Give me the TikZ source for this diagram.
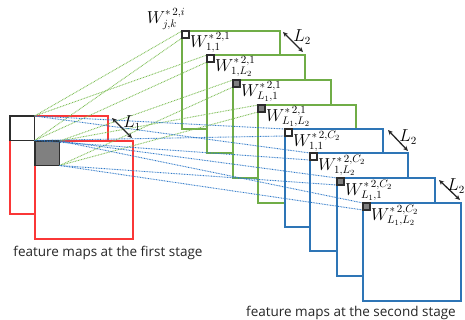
\documentclass[tikz,border=0pt]{standalone}
\usepackage{fontspec}
\newfontfamily\capfont{Open Sans}
\usetikzlibrary{arrows.meta}
\definecolor{fmred}{RGB}{250,55,55}
\definecolor{fmgreen}{RGB}{112,173,71}
\definecolor{fmblue}{RGB}{46,117,182}
\definecolor{dotgreen}{RGB}{125,190,85}
\definecolor{dotblue}{RGB}{45,120,200}
\definecolor{sqgray}{RGB}{128,128,128}
\definecolor{sqedge}{RGB}{45,45,45}
\begin{document}
\begin{tikzpicture}[x=1pt,y=-1pt,
  frame/.style={draw, line width=1.8pt, fill=white, minimum size=98pt, inner sep=0pt, outer sep=0pt, anchor=north west},
  redframe/.style={frame, draw=fmred},
  greenframe/.style={frame, draw=fmgreen},
  blueframe/.style={frame, draw=fmblue},
  bigsq/.style={draw=sqedge, line width=1.4pt, minimum size=24.5pt, inner sep=0pt, outer sep=0pt, anchor=north west},
  smallsq/.style={draw=sqedge, line width=1.3pt, minimum size=7pt, inner sep=0pt, outer sep=0pt, anchor=north west, fill=white},
  graysq/.style={fill=sqgray},
  gdot/.style={draw=dotgreen, line width=0.9pt, dash pattern=on 0.8pt off 0.8pt},
  bdot/.style={draw=dotblue, line width=0.9pt, dash pattern=on 0.8pt off 0.8pt},
  lab/.style={inner sep=0pt, font=\fontsize{16}{18}\selectfont},
  wlab/.style={lab, anchor=north west},
  dimarrow/.style={draw=black!85, line width=1.3pt, {Stealth[length=5pt,width=4.5pt]}-{Stealth[length=5pt,width=4.5pt]}},
  captext/.style={inner sep=0pt, anchor=base, font=\capfont\fontsize{13.5}{15}\selectfont, text=black!85}
]
\useasboundingbox (0,0) rectangle (465,320);

% first stage
\node[redframe] (R1) at (10,116) {};
\node[redframe] (R2) at (35,141) {};
\node[bigsq, fill=white] (ws) at (10,116) {};
\node[bigsq, graysq] (gs) at (35,141) {};

% second stage, green
\node[greenframe] (G1) at (182,31) {};
\node[greenframe] (G2) at (207,55) {};
\node[greenframe] (G3) at (233,80) {};
\node[greenframe] (G4) at (258,105) {};
% second stage, blue
\node[blueframe] (B1) at (285,129) {};
\node[blueframe] (B2) at (310,153) {};
\node[blueframe] (B3) at (337,178) {};
\node[blueframe] (B4) at (363,203) {};

% small squares
\node[smallsq] (g1) at (G1.north west) {};
\node[smallsq] (g2) at (G2.north west) {};
\node[smallsq, graysq] (g3) at (G3.north west) {};
\node[smallsq, graysq] (g4) at (G4.north west) {};
\node[smallsq] (b1) at (B1.north west) {};
\node[smallsq] (b2) at (B2.north west) {};
\node[smallsq, graysq] (b3) at (B3.north west) {};
\node[smallsq, graysq] (b4) at (B4.north west) {};

% dotted projection lines
\foreach \s/\t in {ws/g1, ws/g2, gs/g3, gs/g4} {
  \draw[gdot] (\s.north east) -- (\t.north west);
  \draw[gdot] (\s.south east) -- (\t.south west);
}
\foreach \s/\t in {ws/b1, ws/b2, gs/b3, gs/b4} {
  \draw[bdot] (\s.north east) -- (\t.north west);
  \draw[bdot] (\s.south east) -- (\t.south west);
}
% redraw small squares on top
\foreach \t/\f in {g1/white, g2/white, g3/sqgray, g4/sqgray, b1/white, b2/white, b3/sqgray, b4/sqgray} {
  \draw[sqedge, line width=1.3pt, fill=\f] (\t.north west) rectangle (\t.south east);
}

% labels
\node[lab] (top) at (166,19) {$W_{j,k}^{*\,2,i}$};
\node[wlab] (lg1) at (190,32) {$W_{1,1}^{*\,2,1}$};
\node[wlab] (lg2) at (215,56) {$W_{1,L_2}^{*\,2,1}$};
\node[wlab] (lg3) at (241,81) {$W_{L_1,1}^{*\,2,1}$};
\node[wlab] (lg4) at (266,106) {$W_{L_1,L_2}^{*\,2,1}$};
\node[wlab] (lb1) at (293,131) {$W_{1,1}^{*\,2,C_2}$};
\node[wlab] (lb2) at (318,155) {$W_{1,L_2}^{*\,2,C_2}$};
\node[wlab] (lb3) at (345,180) {$W_{L_1,1}^{*\,2,C_2}$};
\node[wlab] (lb4) at (371,205) {$W_{L_1,L_2}^{*\,2,C_2}$};

% size arrows
\coordinate (a1s) at (112,118); \coordinate (a1e) at (132,138);
\draw[dimarrow] (a1s) -- (a1e);
\node[lab] (L1) at (132,123) {$L_1$};
\coordinate (a2s) at (283,32); \coordinate (a2e) at (303,52);
\draw[dimarrow] (a2s) -- (a2e);
\node[lab] (L2g) at (302,37) {$L_2$};
\coordinate (a3s) at (388,130); \coordinate (a3e) at (408,151);
\draw[dimarrow] (a3s) -- (a3e);
\node[lab] (L2b) at (408,137) {$L_2$};
\coordinate (a4s) at (439,180); \coordinate (a4e) at (460,200);
\draw[dimarrow] (a4s) -- (a4e);
\node[lab] (L2c) at (456,186) {$L_2$};

% captions
\node[captext] (cap1) at (108,256) {feature maps at the first stage};
\node[captext] (cap2) at (351,316) {feature maps at the second stage};
\end{tikzpicture}
\end{document}
